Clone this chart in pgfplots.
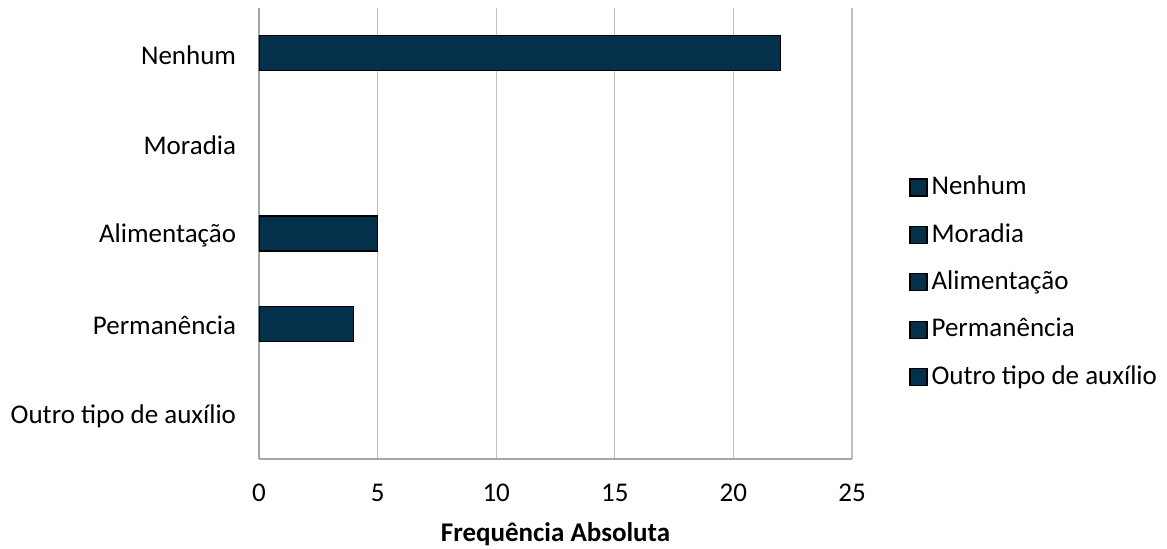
\documentclass[border=0pt]{standalone}
\usepackage{fontspec}
\setmainfont{Carlito}
\usepackage{pgfplots}
\pgfplotsset{compat=1.18}
\definecolor{barcol}{HTML}{03304A}
\definecolor{gridcol}{HTML}{BFBFBF}
\definecolor{axiscol}{HTML}{A6A6A6}

\begin{document}
\fontsize{13.5pt}{16pt}\selectfont
\begin{tikzpicture}
\useasboundingbox (-129.5pt,-45pt) rectangle (454pt,229.5pt);
\begin{axis}[
    at={(0pt,0pt)}, anchor=south west,
    scale only axis,
    width=296.5pt, height=225.5pt,
    xbar, bar width=0.39,
    xmin=0, xmax=25,
    ymin=-0.5, ymax=4.5,
    y dir=reverse,
    xtick={0,5,10,15,20,25},
    ytick={0,1,2,3,4},
    yticklabels={Nenhum, Moradia, Alimentação, Permanência, Outro tipo de auxílio},
    /pgf/number format/assume math mode=true,
    tick style={draw=none},
    xmajorgrids, major grid style={gridcol, line width=0.6pt},
    axis x line*=bottom, axis y line*=left,
    axis line style={axiscol, line width=0.7pt, -},
    tick label style={font=\fontsize{13.5pt}{16pt}\selectfont},
    xticklabel style={yshift=-8pt},
    yticklabel style={xshift=-2.5pt, yshift=-1pt},
    xlabel={\textbf{Frequência Absoluta}},
    xlabel style={font=\fontsize{13.5pt}{16pt}\selectfont, yshift=-1pt},
    legend cell align=left,
    legend style={at={(1.086,0.392)}, anchor=west, draw=none, fill=none,
        font=\fontsize{13.5pt}{16pt}\selectfont, row sep=10.3pt,
        nodes={inner sep=1pt}},
    legend image code/.code={\draw[#1] (0pt,-4.25pt) rectangle (8.5pt,4.25pt);
        \path (9.5pt,0pt);},
]
\addplot[fill=barcol, draw=black, line width=0.6pt, bar shift=0pt, forget plot]
    coordinates {(22,0) (5,2) (4,3)};
\addlegendimage{fill=barcol, draw=black, line width=0.6pt}
\addlegendentry{Nenhum}
\addlegendimage{fill=barcol, draw=black, line width=0.6pt}
\addlegendentry{Moradia}
\addlegendimage{fill=barcol, draw=black, line width=0.6pt}
\addlegendentry{Alimentação}
\addlegendimage{fill=barcol, draw=black, line width=0.6pt}
\addlegendentry{Permanência}
\addlegendimage{fill=barcol, draw=black, line width=0.6pt}
\addlegendentry{Outro tipo de auxílio}
\end{axis}
\end{tikzpicture}
\end{document}
